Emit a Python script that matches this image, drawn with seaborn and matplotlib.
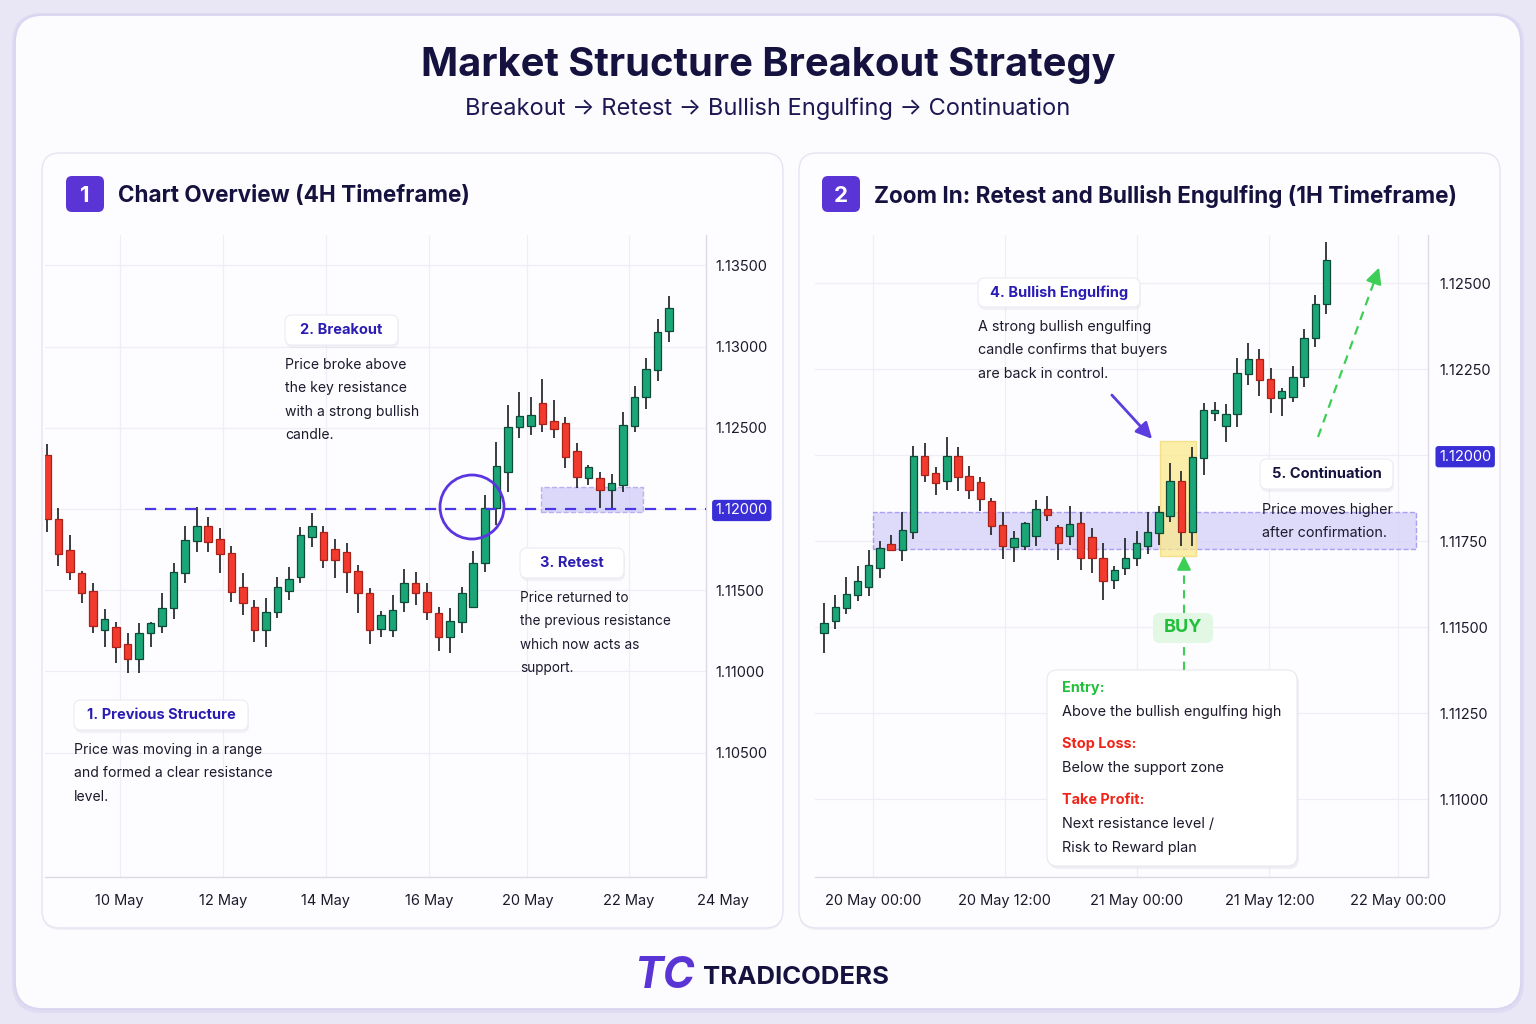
import matplotlib
matplotlib.use('Agg')
import matplotlib.pyplot as plt
import seaborn as sns
import numpy as np
from matplotlib.patches import FancyBboxPatch, Rectangle, Circle

sns.set_theme(style='white')
FONT = ['Inter', 'DejaVu Sans']
plt.rcParams['font.family'] = FONT

# ---------------- DATA ----------------
# Left panel: 4H candles (open, high, low, close)
left_open = [1.12333, 1.11938, 1.11747, 1.11606, 1.11495, 1.11255, 1.11273, 1.11168, 1.11076, 1.11236,
             1.11279, 1.11390, 1.11606, 1.11803, 1.11895, 1.11815, 1.11729, 1.11520, 1.11396, 1.11255,
             1.11366, 1.11495, 1.11581, 1.11828, 1.11858, 1.11754, 1.11735, 1.11618, 1.11483, 1.11261,
             1.11255, 1.11427, 1.11544, 1.11489, 1.11359, 1.11212, 1.11304, 1.11396, 1.11667, 1.12006,
             1.12228, 1.12505, 1.12511, 1.12653, 1.12542, 1.12530, 1.12357, 1.12191, 1.12191, 1.12117,
             1.12148, 1.12511, 1.12690, 1.12856, 1.13097]
left_high = [1.12400, 1.12006, 1.11840, 1.11620, 1.11544, 1.11384, 1.11304, 1.11236, 1.11298, 1.11304,
             1.11483, 1.11667, 1.11895, 1.12012, 1.11951, 1.11883, 1.11772, 1.11606, 1.11439, 1.11452,
             1.11581, 1.11643, 1.11889, 1.11975, 1.11895, 1.11815, 1.11791, 1.11655, 1.11513, 1.11372,
             1.11470, 1.11630, 1.11612, 1.11544, 1.11396, 1.11390, 1.11520, 1.11741, 1.12086, 1.12413,
             1.12641, 1.12721, 1.12690, 1.12801, 1.12671, 1.12567, 1.12407, 1.12271, 1.12228, 1.12216,
             1.12598, 1.12758, 1.12930, 1.13170, 1.13312]
left_low = [1.11858, 1.11649, 1.11563, 1.11421, 1.11236, 1.11150, 1.11051, 1.10990, 1.10990, 1.11150,
            1.11236, 1.11322, 1.11544, 1.11735, 1.11735, 1.11606, 1.11427, 1.11347, 1.11181, 1.11150,
            1.11329, 1.11439, 1.11544, 1.11766, 1.11637, 1.11575, 1.11483, 1.11359, 1.11168, 1.11212,
            1.11212, 1.11366, 1.11409, 1.11316, 1.11125, 1.11113, 1.11236, 1.11390, 1.11612, 1.11901,
            1.12105, 1.12437, 1.12456, 1.12474, 1.12437, 1.12253, 1.12129, 1.12148, 1.12006, 1.12006,
            1.12105, 1.12474, 1.12616, 1.12789, 1.13029]
left_close = [1.11938, 1.11723, 1.11612, 1.11483, 1.11279, 1.11322, 1.11150, 1.11076, 1.11236, 1.11298,
              1.11390, 1.11612, 1.11809, 1.11895, 1.11797, 1.11723, 1.11489, 1.11421, 1.11255, 1.11366,
              1.11520, 1.11569, 1.11840, 1.11895, 1.11686, 1.11686, 1.11612, 1.11483, 1.11255, 1.11347,
              1.11378, 1.11544, 1.11483, 1.11366, 1.11212, 1.11310, 1.11483, 1.11667, 1.12006, 1.12265,
              1.12505, 1.12573, 1.12579, 1.12524, 1.12493, 1.12320, 1.12197, 1.12259, 1.12117, 1.12160,
              1.12517, 1.12690, 1.12862, 1.13090, 1.13238]
left_xtick_pos = [6.3, 15.3, 24.2, 33.2, 41.7, 50.5, 58.7]
left_xtick_labels = ['10 May', '12 May', '14 May', '16 May', '20 May', '22 May', '24 May']
left_yticks = [1.105, 1.110, 1.115, 1.120, 1.125, 1.130, 1.135]
left_resistance = 1.12000
left_retest_zone = (1.11982, 1.12136)
left_retest_span = (42.9, 51.7)
left_line_start = 8.5

# Right panel: 1H candles
right_open = [1.11482, 1.11517, 1.11557, 1.11595, 1.11618, 1.11672, 1.11741, 1.11724, 1.11776, 1.11998,
              1.11949, 1.11926, 1.11998, 1.11940, 1.11923, 1.11868, 1.11796, 1.11733, 1.11736, 1.11764,
              1.11845, 1.11790, 1.11764, 1.11802, 1.11762, 1.11701, 1.11638, 1.11672, 1.11701, 1.11736,
              1.11773, 1.11822, 1.11926, 1.11776, 1.11992, 1.12124, 1.12084, 1.12121, 1.12237, 1.12280,
              1.12222, 1.12165, 1.12168, 1.12228, 1.12340, 1.12438]
right_high = [1.11571, 1.11595, 1.11646, 1.11678, 1.11724, 1.11750, 1.11767, 1.11836, 1.12026, 1.12035,
              1.11966, 1.12052, 1.12024, 1.11969, 1.11937, 1.11877, 1.11834, 1.11779, 1.11805, 1.11871,
              1.11880, 1.11796, 1.11851, 1.11836, 1.11787, 1.11744, 1.11678, 1.11759, 1.11779, 1.11834,
              1.11851, 1.11977, 1.11954, 1.12024, 1.12153, 1.12156, 1.12150, 1.12283, 1.12326, 1.12309,
              1.12254, 1.12196, 1.12260, 1.12366, 1.12467, 1.12620]
right_low = [1.11425, 1.11494, 1.11537, 1.11577, 1.11592, 1.11643, 1.11721, 1.11692, 1.11756, 1.11923,
             1.11885, 1.11900, 1.11897, 1.11874, 1.11839, 1.11767, 1.11698, 1.11690, 1.11724, 1.11736,
             1.11810, 1.11695, 1.11738, 1.11667, 1.11658, 1.11580, 1.11612, 1.11652, 1.11678, 1.11713,
             1.11738, 1.11805, 1.11736, 1.11736, 1.11943, 1.12098, 1.12038, 1.12081, 1.12205, 1.12173,
             1.12124, 1.12113, 1.12156, 1.12199, 1.12314, 1.12409]
right_close = [1.11511, 1.11560, 1.11597, 1.11635, 1.11681, 1.11730, 1.11724, 1.11782, 1.11998, 1.11943,
               1.11920, 1.11998, 1.11937, 1.11900, 1.11874, 1.11793, 1.11736, 1.11759, 1.11802, 1.11845,
               1.11825, 1.11744, 1.11799, 1.11701, 1.11701, 1.11635, 1.11667, 1.11701, 1.11744, 1.11776,
               1.11834, 1.11926, 1.11776, 1.11995, 1.12130, 1.12130, 1.12121, 1.12239, 1.12280, 1.12219,
               1.12165, 1.12188, 1.12228, 1.12340, 1.12438, 1.12568]
right_xtick_pos = [4.4, 16.2, 28.0, 39.9, 51.4]
right_xtick_labels = ['20 May 00:00', '20 May 12:00', '21 May 00:00', '21 May 12:00', '22 May 00:00']
right_yticks = [1.110, 1.1125, 1.115, 1.1175, 1.120, 1.1225, 1.125]
right_support_zone = (1.11727, 1.11834)
right_support_span = (4.4, 53.0)
engulf_zone = (1.11707, 1.12041)
engulf_span = (30.1, 33.3)

# ---------------- STYLE ----------------
GREEN, GREEN_E = '#1ba678', '#0f4a37'
RED, RED_E = '#f23b2e', '#a8221a'
WICK = '#2a2d33'
NAVY = '#16123f'
PURPLE = '#5b34d6'
LINEBLUE = '#4a38e6'
TAGBLUE = '#2b1cb4'
TXT = '#1b1a2c'

W, H = 1536, 1024
fig = plt.figure(figsize=(15.36, 10.24), dpi=100)
fig.patch.set_facecolor('#e9e6f6')

bg = fig.add_axes([0, 0, 1, 1], zorder=0)
bg.set_xlim(0, W); bg.set_ylim(H, 0); bg.axis('off')


def rbox(ax, x0, y0, x1, y1, r, fc, ec, lw=1.0, z=1, alpha=1.0, ls='-'):
    p = FancyBboxPatch((x0, y0), x1 - x0, y1 - y0,
                       boxstyle=f'round,pad=0,rounding_size={r}',
                       fc=fc, ec=ec, lw=lw, zorder=z, alpha=alpha, linestyle=ls)
    ax.add_patch(p)
    return p


# card + panels
rbox(bg, 12, 13, 1524, 1013, 30, '#d9d4ef', 'none', z=0, alpha=0.6)
rbox(bg, 15, 15, 1521, 1009, 28, '#fcfcff', '#d8d3f0', lw=1.2, z=1)
for (x0, x1) in [(42, 783), (799, 1500)]:
    rbox(bg, x0, 155, x1, 930, 18, '#ecebf4', 'none', z=1.5, alpha=0.6)
    rbox(bg, x0, 153, x1, 928, 18, '#fdfdff', '#e6e4f1', lw=1.0, z=2)

bg.text(768, 65, 'Market Structure Breakout Strategy', ha='center', va='center',
        fontsize=28.7, fontweight='bold', color=NAVY, zorder=3)
bg.text(768, 109, 'Breakout → Retest → Bullish Engulfing → Continuation', ha='center', va='center',
        fontsize=17, color='#1d1752', zorder=3)

for bx, num, title in [(66, '1', 'Chart Overview (4H Timeframe)'),
                       (822, '2', 'Zoom In: Retest and Bullish Engulfing (1H Timeframe)')]:
    rbox(bg, bx, 176, bx + 38, 212, 6, PURPLE, 'none', z=3)
    bg.text(bx + 19, 195.5, num, ha='center', va='center', fontsize=16, fontweight='bold', color='white', zorder=4)
    bg.text(bx + 52, 196, title, ha='left', va='center', fontsize=16.2, fontweight='bold', color=NAVY, zorder=4)

# footer
bg.text(664, 976, 'TC', ha='center', va='center', fontsize=31, fontweight='bold', fontstyle='italic',
        color=PURPLE, zorder=4)
bg.text(703, 977, 'TRADICODERS', ha='left', va='center', fontsize=18.5, fontweight='bold', color=NAVY, zorder=4)


def draw_candles(ax, o, h, l, c, width):
    o, h, l, c = map(np.asarray, (o, h, l, c))
    x = np.arange(len(o))
    up = c >= o
    ax.vlines(x, l, h, color=WICK, lw=1.3, zorder=3)
    body = np.maximum(np.abs(c - o), 0.00003)
    ax.bar(x, body, bottom=np.minimum(o, c), width=width,
           color=np.where(up, GREEN, RED), edgecolor=np.where(up, GREEN_E, RED_E),
           linewidth=0.9, zorder=4)


def style_axis(ax, yticks, xpos, xlabels, ypad):
    ax.set_facecolor('none')
    ax.yaxis.tick_right()
    ax.set_yticks(yticks)
    labs = ax.set_yticklabels([f'{v:.5f}' for v in yticks])
    ax.set_xticks(xpos)
    ax.set_xticklabels(xlabels)
    ax.tick_params(axis='both', length=0, labelsize=10.5, labelcolor=TXT)
    ax.tick_params(axis='x', pad=12)
    ax.tick_params(axis='y', pad=ypad)
    ax.grid(True, color='#efeef6', lw=0.9)
    for s in ['top', 'left']:
        ax.spines[s].set_visible(False)
    for s in ['right', 'bottom']:
        ax.spines[s].set_color('#dcdbe5')
        ax.spines[s].set_linewidth(1.0)
    for t in labs:
        if t.get_text() == '1.12000':
            t.set_color('white')
            t.set_bbox(dict(boxstyle='round,pad=0.25,rounding_size=0.2', fc='#3a2fd6', ec='none'))


# ---------------- LEFT CHART ----------------
axL = fig.add_axes([45 / W, 1 - 877 / H, (706 - 45) / W, (877 - 235) / H], zorder=2)
draw_candles(axL, left_open, left_high, left_low, left_close, 0.66)
axL.set_xlim(-0.17, 57.2)
axL.set_ylim(1.09734, 1.13687)
style_axis(axL, left_yticks, left_xtick_pos[:-1], left_xtick_labels[:-1], 7)
axL.text(left_xtick_pos[-1], -0.0265, left_xtick_labels[-1], transform=axL.get_xaxis_transform(),
         ha='center', va='top', fontsize=10.5, color=TXT, clip_on=False)
axL.hlines(left_resistance, left_line_start, 57.2, colors=LINEBLUE, linestyles=(0, (5, 4)), lw=1.6, zorder=5)
axL.add_patch(Rectangle((left_retest_span[0], left_retest_zone[0]), left_retest_span[1] - left_retest_span[0],
                        left_retest_zone[1] - left_retest_zone[0], fc='#cbc5f6', ec='#9d92ee', alpha=0.65,
                        lw=1.0, ls='--', zorder=2))

# ---------------- RIGHT CHART ----------------
axR = fig.add_axes([815 / W, 1 - 877 / H, (1428 - 815) / W, (877 - 235) / H], zorder=2)
axR.add_patch(Rectangle((right_support_span[0], right_support_zone[0]), right_support_span[1] - right_support_span[0],
                        right_support_zone[1] - right_support_zone[0], fc='#d2ccf8', ec='#8c80ee', alpha=0.7,
                        lw=1.0, ls='--', zorder=1))
axR.add_patch(Rectangle((engulf_span[0], engulf_zone[0]), engulf_span[1] - engulf_span[0],
                        engulf_zone[1] - engulf_zone[0], fc='#fbe98c', ec='#f3d870', alpha=0.75,
                        lw=1.0, zorder=2))
draw_candles(axR, right_open, right_high, right_low, right_close, 0.66)
axR.set_xlim(-0.81, 54.1)
axR.set_ylim(1.10774, 1.12640)
style_axis(axR, right_yticks, right_xtick_pos, right_xtick_labels, 8)

# ---------------- OVERLAY (annotations) ----------------
ov = fig.add_axes([0, 0, 1, 1], zorder=6)
ov.set_xlim(0, W); ov.set_ylim(H, 0); ov.axis('off'); ov.patch.set_alpha(0)


def tag(x0, y0, x1, y1, text, color=TAGBLUE):
    rbox(ov, x0 + 1, y0 + 2, x1 + 1, y1 + 3, 7, '#dcdbe8', 'none', z=1, alpha=0.35)
    rbox(ov, x0, y0, x1, y1, 7, 'white', '#ecebf3', lw=0.8, z=2)
    ov.text((x0 + x1) / 2, (y0 + y1) / 2, text, ha='center', va='center', fontsize=10.5,
            fontweight='bold', color=color, zorder=3)


def body(x, y0, lines, step=23.4, size=10.3):
    for i, ln in enumerate(lines):
        ov.text(x, y0 + i * step, ln, ha='left', va='center', fontsize=size, color=TXT, zorder=3)


tag(285, 315, 398, 345, '2. Breakout')
body(285, 365, ['Price broke above', 'the key resistance', 'with a strong bullish', 'candle.'], size=10.1)
tag(520, 548, 624, 578, '3. Retest')
body(520, 598, ['Price returned to', 'the previous resistance', 'which now acts as', 'support.'], size=9.8)
tag(74, 700, 248, 730, '1. Previous Structure')
body(74, 750, ['Price was moving in a range', 'and formed a clear resistance', 'level.'], size=10.1)
ov.add_patch(Circle((472, 507), 32, fill=False, ec='#5a35e0', lw=2.0, zorder=4))

tag(978, 278, 1140, 307, '4. Bullish Engulfing')
body(978, 327, ['A strong bullish engulfing', 'candle confirms that buyers', 'are back in control.'])
tag(1260, 459, 1393, 489, '5. Continuation', color=NAVY)
body(1262, 510, ['Price moves higher', 'after confirmation.'])

# purple arrow to engulfing candle
ov.annotate('', xy=(1154, 441), xytext=(1110, 393),
            arrowprops=dict(arrowstyle='-|>,head_length=0.8,head_width=0.4', color='#5b3de0', lw=2.0))

# BUY marker + dashed arrow
GREEN_TXT = '#22c03a'
ov.plot([1184, 1184], [670, 643], ls=(0, (4, 3)), color='#3dcf55', lw=1.5, zorder=3)
ov.plot([1184, 1184], [613, 566], ls=(0, (4, 3)), color='#3dcf55', lw=1.5, zorder=3)
ov.annotate('', xy=(1184, 553), xytext=(1184, 568),
            arrowprops=dict(arrowstyle='-|>,head_length=0.7,head_width=0.35', color='#3dcf55', lw=1.5))
rbox(ov, 1153, 613, 1213, 643, 7, '#e2f7e4', 'none', z=2)
ov.text(1183, 628, 'BUY', ha='center', va='center', fontsize=13, fontweight='bold', color=GREEN_TXT, zorder=3)

# continuation dashed arrow
ov.plot([1318, 1374], [437, 282], ls=(0, (4, 3)), color='#3dcf55', lw=1.6, zorder=3)
ov.annotate('', xy=(1380, 265), xytext=(1374, 282),
            arrowprops=dict(arrowstyle='-|>,head_length=0.8,head_width=0.4', color='#3dcf55', lw=1.6))

# trade plan box
rbox(ov, 1049, 673, 1299, 869, 10, '#dddce8', 'none', z=1, alpha=0.4)
rbox(ov, 1047, 670, 1297, 866, 10, 'white', '#e8e7f0', lw=0.8, z=2)
plan = [('Entry:', GREEN_TXT, 'bold', 688), ('Above the bullish engulfing high', TXT, 'normal', 712),
        ('Stop Loss:', '#f02418', 'bold', 744), ('Below the support zone', TXT, 'normal', 768),
        ('Take Profit:', '#f02418', 'bold', 800), ('Next resistance level /', TXT, 'normal', 824),
        ('Risk to Reward plan', TXT, 'normal', 848)]
for txt, col, wt, yy in plan:
    ov.text(1062, yy, txt, ha='left', va='center', fontsize=10.4, fontweight=wt, color=col, zorder=3)

fig.savefig('out.png', dpi=100, facecolor=fig.get_facecolor())
